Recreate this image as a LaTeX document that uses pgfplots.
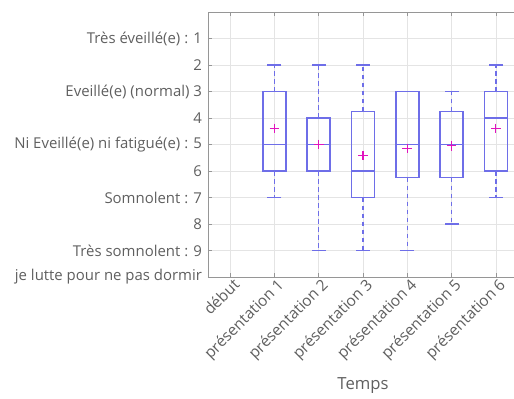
\documentclass[border=0pt]{standalone}
\usepackage{fontspec}
\setmainfont{Open Sans}
\usepackage{pgfplots}
\pgfplotsset{compat=1.18}
\usepgfplotslibrary{statistics}
\definecolor{boxc}{RGB}{110,110,232}
\definecolor{meanc}{RGB}{225,20,190}
\definecolor{txt}{RGB}{95,95,95}
\definecolor{gridc}{RGB}{228,228,228}
\definecolor{axc}{RGB}{150,150,150}
\pgfplotsset{
  boxstyle/.style={color=boxc, solid, line width=1.1pt,
    boxplot/draw direction=y,
    boxplot/box extend=0.52,
    boxplot/whisker extend=0,
    boxplot/every box/.style={draw=boxc, solid, line width=1.1pt},
    boxplot/every median/.style={draw=boxc, solid, line width=1.1pt},
    boxplot/every whisker/.style={draw=boxc, line width=1.1pt, dash pattern=on 3.5pt off 2.5pt}},
}
\begin{document}
\begin{tikzpicture}
\begin{axis}[
  at={(0,0)}, anchor=north west,
  scale only axis, width=232.5pt, height=198.75pt,
  xmin=0.5, xmax=7.5, ymin=0, ymax=10, y dir=reverse,
  xtick={1,...,7},
  xticklabels={début, présentation 1, présentation 2, présentation 3, présentation 4, présentation 5, présentation 6},
  ytick={1,...,10},
  yticklabels={{Très éveillé(e) : 1}, 2, {Eveillé(e) (normal) 3}, 4, {Ni Eveillé(e) ni fatigué(e) : 5}, 6, {Somnolent : 7}, 8, {Très somnolent : 9}, {je lutte pour ne pas dormir}},
  tick label style={txt},
  yticklabel style={font=\fontsize{11.2}{13}\selectfont, xshift=-1pt},
  xticklabel style={font=\fontsize{11.6}{13}\selectfont, rotate=45, anchor=north east, inner sep=1pt, xshift=2pt},
  xlabel={Temps}, xlabel style={txt, font=\fontsize{12.5}{14}\selectfont, yshift=-6pt},
  grid=major, major grid style={gridc, line width=0.5pt},
  axis line style={axc, line width=0.6pt},
  major tick style={axc, line width=0.5pt}, major tick length=3pt,
]
\addplot[boxstyle, boxplot prepared={draw position=2, lower whisker=2, lower quartile=3, median=5, upper quartile=6, upper whisker=7}] coordinates {};
\addplot[boxstyle, boxplot prepared={draw position=3, lower whisker=2, lower quartile=4, median=5, upper quartile=6, upper whisker=9}] coordinates {};
\addplot[boxstyle, boxplot prepared={draw position=4, lower whisker=2, lower quartile=3.75, median=6, upper quartile=7, upper whisker=9}] coordinates {};
\addplot[boxstyle, boxplot prepared={draw position=5, lower whisker=3, lower quartile=3, median=5, upper quartile=6.25, upper whisker=9}] coordinates {};
\addplot[boxstyle, boxplot prepared={draw position=6, lower whisker=3, lower quartile=3.75, median=5, upper quartile=6.25, upper whisker=8}] coordinates {};
\addplot[boxstyle, boxplot prepared={draw position=7, lower whisker=2, lower quartile=3, median=4, upper quartile=6, upper whisker=7}] coordinates {};
% whisker caps
\addplot[only marks, mark=-, mark size=5.2pt, mark options={draw=boxc, line width=1.1pt, solid}] coordinates {
 (2,2) (2,7) (3,2) (3,9) (4,2) (4,9) (5,9) (6,3) (6,8) (7,2) (7,7)};
% means
\addplot[only marks, mark=+, mark size=3.6pt, mark options={draw=meanc, line width=0.9pt}] coordinates {
 (2,4.4) (3,5.0) (4,5.42) (5,5.15) (6,5.05) (7,4.4)};
\end{axis}
\pgfresetboundingbox
\useasboundingbox (-156pt,9pt) rectangle (229.5pt,-290.25pt);
\end{tikzpicture}
\end{document}
